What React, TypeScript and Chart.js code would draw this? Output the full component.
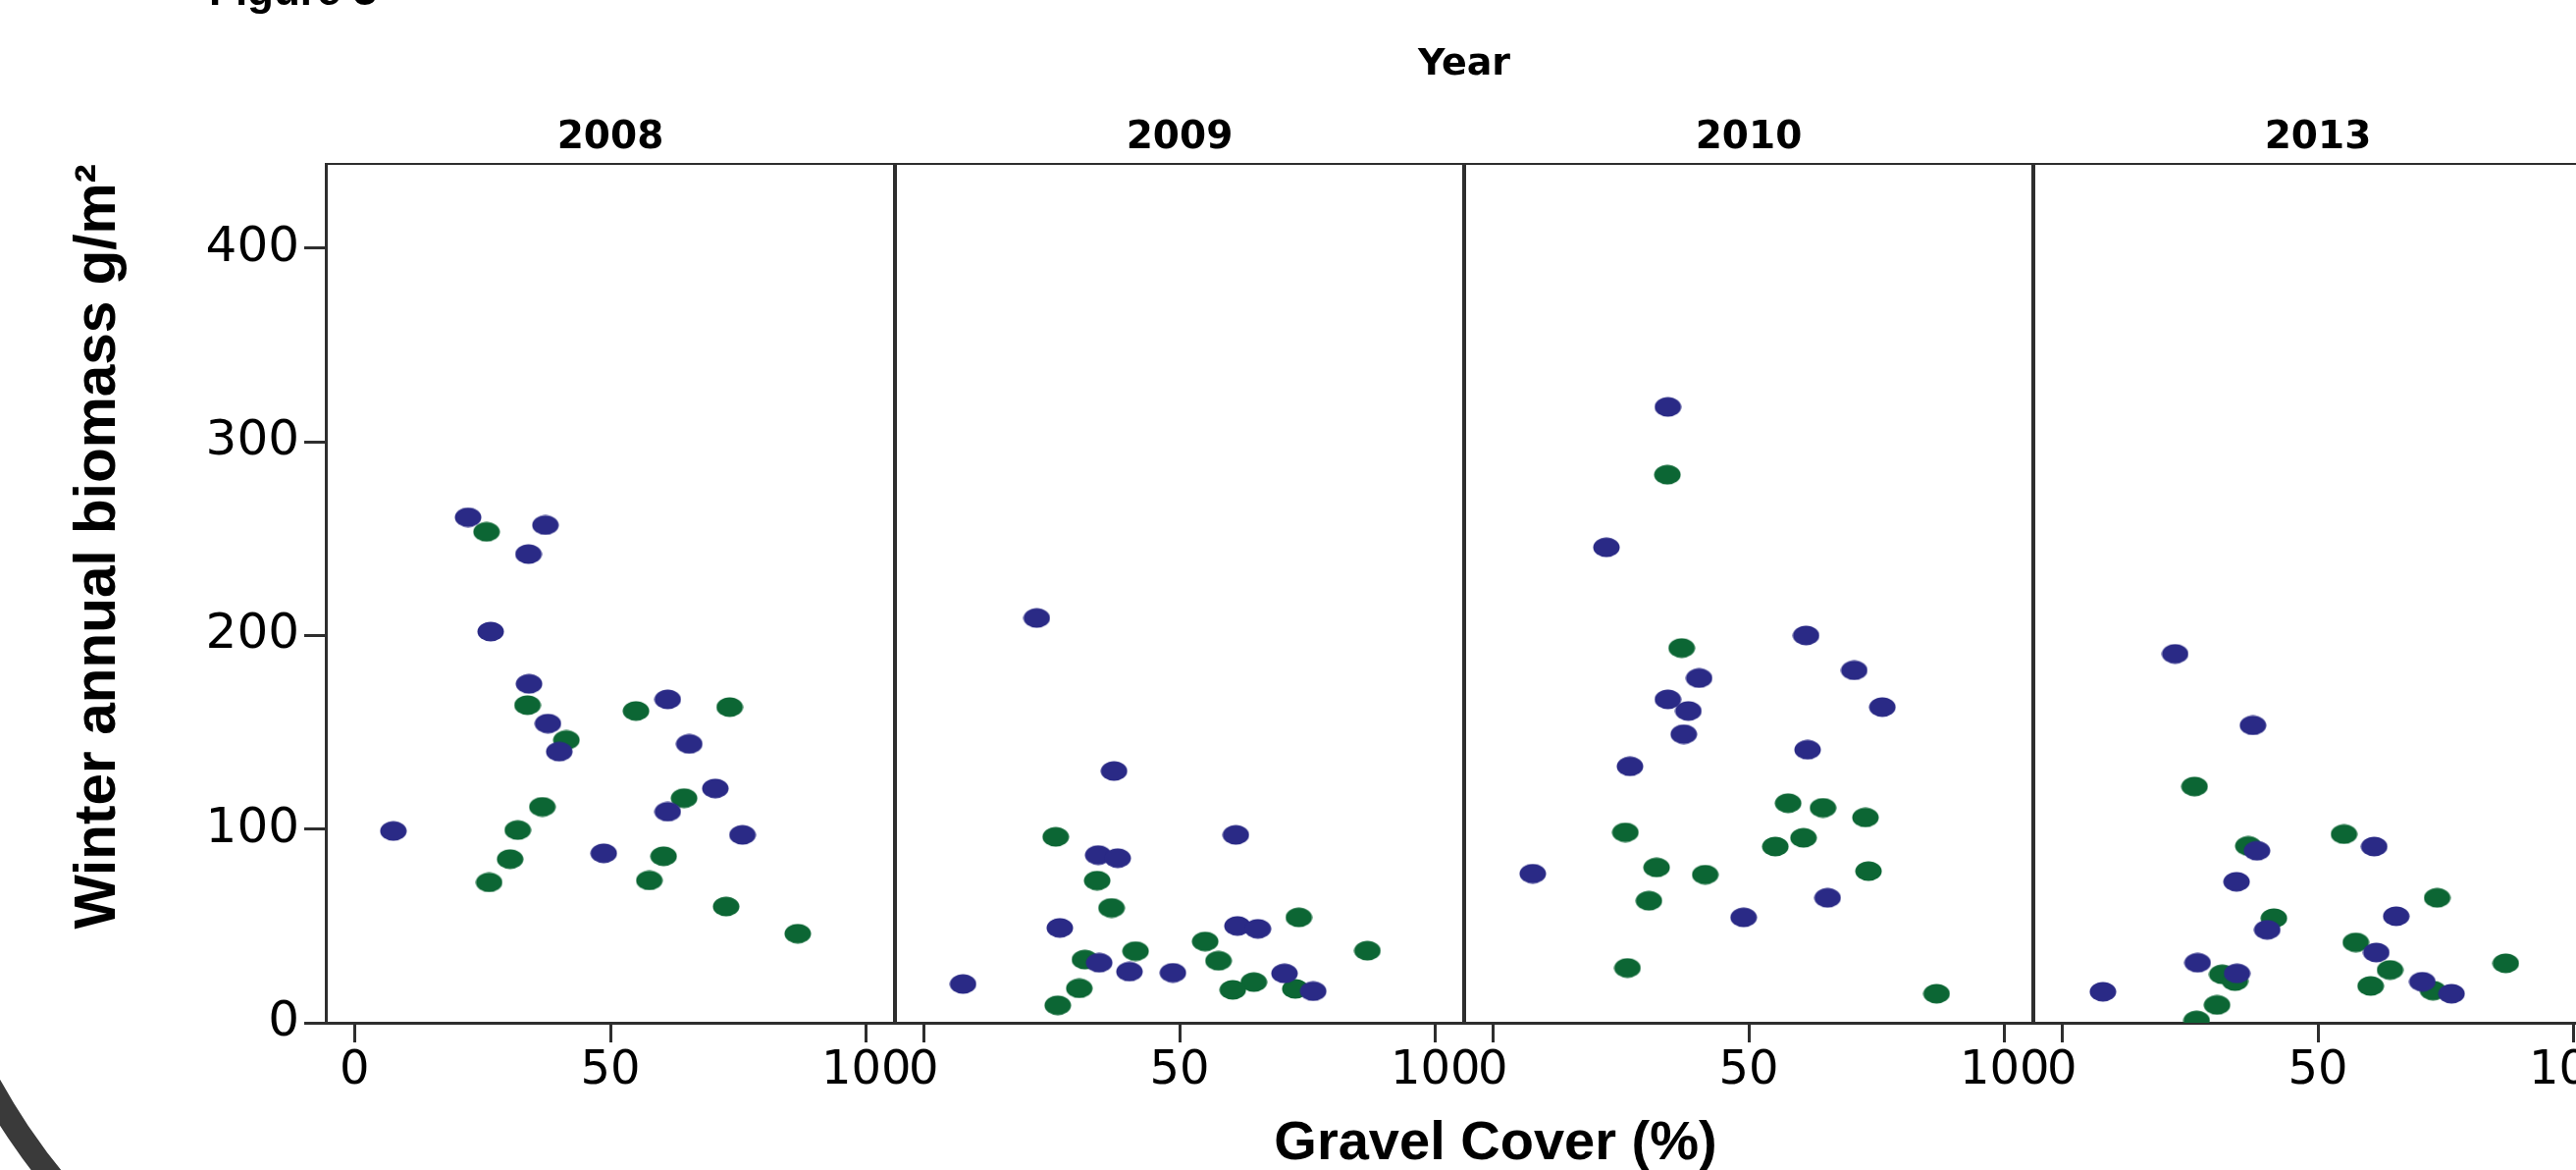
import React, { useEffect, useRef } from 'react';
import { Chart, registerables } from 'chart.js';

Chart.register(...registerables);

// ---------- data ----------
const years = ['2008', '2009', '2010', '2013'];
const xTickValues = [0, 50, 100];
const yTickValues = [0, 100, 200, 300, 400];

// blue points: gravel cover (%) and winter annual biomass (g/m2)
const blueGravel2008 = [22.2, 37.3, 34.0, 26.6, 34.1, 61.2, 37.8, 40.0, 65.4, 70.5, 61.2, 7.6, 48.7, 75.8];
const blueBiomass2008 = [261, 257, 242, 202, 175, 167, 154.5, 140, 144, 121, 109, 99, 87.5, 97];
const blueGravel2009 = [22.1, 37.2, 61.0, 34.1, 37.9, 26.6, 61.3, 65.3, 34.3, 40.2, 48.7, 70.5, 7.7, 76.1];
const blueBiomass2009 = [209, 130, 97, 86.6, 85, 49, 50, 48.5, 31, 26.4, 25.8, 25.5, 20, 16.3];
const blueGravel2010 = [34.2, 22.2, 61.2, 70.6, 40.3, 34.2, 38.2, 76.1, 37.3, 61.5, 26.8, 7.8, 65.4, 49.0];
const blueBiomass2010 = [318, 245.5, 200, 182, 178, 167, 161, 163, 149, 141, 132.4, 77, 64.5, 54.4];
const blueGravel2013 = [22.1, 37.3, 61.0, 38.1, 34.1, 65.3, 40.1, 61.4, 26.5, 34.2, 8.0, 70.4, 76.1];
const blueBiomass2013 = [190.5, 153.6, 91, 88.8, 72.8, 55, 48, 36.3, 31, 25.5, 16, 21.2, 15];

// green points
const greenGravel2008 = [25.8, 33.8, 55.0, 73.3, 41.4, 36.7, 64.4, 31.9, 30.4, 60.4, 26.3, 57.6, 72.6, 86.6];
const greenBiomass2008 = [253.5, 164, 161, 163, 146, 111.5, 116, 99.5, 84.5, 86, 72.5, 73.5, 60, 46];
const greenGravel2009 = [25.8, 33.9, 36.7, 73.3, 55.0, 41.4, 86.7, 31.5, 57.6, 64.5, 30.4, 60.4, 72.6, 26.2];
const greenBiomass2009 = [96, 73.4, 59.3, 54.4, 42, 37, 37.2, 32.6, 32, 21, 17.8, 17, 17.5, 9];
const greenGravel2010 = [34.1, 36.9, 25.9, 32.0, 41.5, 30.5, 57.7, 64.5, 72.8, 60.7, 55.2, 73.4, 26.3, 86.7];
const greenBiomass2010 = [283, 193.5, 98.3, 80.2, 76.5, 63, 113.4, 111, 106, 95.5, 91, 78.3, 28.3, 15];
const greenGravel2013 = [25.9, 55.1, 36.4, 73.3, 41.4, 57.4, 64.1, 86.7, 31.3, 33.8, 60.3, 72.5, 30.3, 26.3];
const greenBiomass2013 = [122, 97.4, 91.3, 64.5, 54, 41.5, 27.3, 30.7, 25, 21.5, 19, 16.6, 9.2, 1.2];

const blueGravel = [blueGravel2008, blueGravel2009, blueGravel2010, blueGravel2013];
const blueBiomass = [blueBiomass2008, blueBiomass2009, blueBiomass2010, blueBiomass2013];
const greenGravel = [greenGravel2008, greenGravel2009, greenGravel2010, greenGravel2013];
const greenBiomass = [greenBiomass2008, greenBiomass2009, greenBiomass2010, greenBiomass2013];

// ---------- panel axis geometry (axis range of one facet) ----------
const PANEL_LO = -5.6;
const PANEL_HI = 105.6;
const SPAN = PANEL_HI - PANEL_LO;
const Y_MAX = 443.5;

const BLUE = '#2a2a86';
const GREEN = '#0c6634';
const AXIS = '#2e2e2e';

const bottomTicks = years.flatMap((_, p) => [
  ...xTickValues.map((v) => ({ value: p * SPAN + v, label: String(v), boundary: false })),
  ...(p < years.length - 1 ? [{ value: p * SPAN + PANEL_HI, label: '', boundary: true }] : []),
]);

function toPoints(xs: number[][], ys: number[][]) {
  return years.flatMap((_, p) => xs[p].map((x, i) => ({ x: x + p * SPAN, y: ys[p][i] })));
}

function makeDot(color: string) {
  const c = document.createElement('canvas');
  c.width = 28;
  c.height = 21;
  const g = c.getContext('2d')!;
  g.fillStyle = color;
  g.beginPath();
  g.ellipse(14, 10.5, 13.5, 10, 0, 0, Math.PI * 2);
  g.fill();
  return c;
}

const decorPlugin = {
  id: 'decor',
  afterDraw(chart: any) {
    const ctx = chart.ctx as CanvasRenderingContext2D;
    ctx.save();
    ctx.font = 'bold 44px "Liberation Sans"';
    ctx.fillStyle = '#000';
    ctx.textBaseline = 'alphabetic';
    ctx.fillText('Figure 3', 213, 5);
    ctx.strokeStyle = '#3a3a3a';
    ctx.lineWidth = 24;
    ctx.beginPath();
    ctx.arc(560, 790, 652, 2.3, 2.8);
    ctx.stroke();
    ctx.restore();
  },
};

export default function App() {
  const ref = useRef<HTMLCanvasElement>(null);

  useEffect(() => {
    document.body.style.margin = '0';
    document.body.style.overflow = 'hidden';
    const canvas = ref.current!;
    const xMin = PANEL_LO;
    const xMax = PANEL_LO + SPAN * years.length;

    const chart = new Chart(canvas, {
      type: 'scatter',
      data: {
        datasets: [
          {
            label: 'Blue plots',
            data: toPoints(blueGravel, blueBiomass),
            pointStyle: makeDot(BLUE) as any,
            pointRadius: 13,
            backgroundColor: BLUE,
            borderWidth: 0,
            clip: 0,
          },
          {
            label: 'Green plots',
            data: toPoints(greenGravel, greenBiomass),
            pointStyle: makeDot(GREEN) as any,
            pointRadius: 13,
            backgroundColor: GREEN,
            borderWidth: 0,
            clip: 0,
          },
        ],
      },
      options: {
        animation: false,
        responsive: false,
        devicePixelRatio: 1,
        events: [],
        layout: { padding: { top: 38.4, left: 0, right: 0, bottom: 0 } },
        plugins: {
          legend: { display: false },
          tooltip: { enabled: false },
          title: { display: false },
          subtitle: {
            display: true,
            text: 'Gravel Cover (%)',
            position: 'bottom',
            fullSize: true,
            color: '#000',
            font: { family: 'Liberation Sans', size: 56, weight: 'bold' },
            padding: { top: 10.8, bottom: 0.4 },
          },
        },
        scales: {
          x: {
            type: 'linear',
            position: 'bottom',
            min: xMin,
            max: xMax,
            afterBuildTicks: (s: any) => {
              s.ticks = bottomTicks.map((t) => ({ value: t.value }));
            },
            afterFit: (s: any) => {
              s.height = 79.6;
            },
            ticks: {
              autoSkip: false,
              maxRotation: 0,
              minRotation: 0,
              padding: 1,
              color: '#000',
              font: { family: 'DejaVu Sans', size: 48 },
              callback: (_v: any, i: number) => bottomTicks[i]?.label ?? '',
            },
            grid: {
              drawOnChartArea: true,
              color: (c: any) => (bottomTicks[c.index]?.boundary ? AXIS : 'rgba(0,0,0,0)'),
              lineWidth: (c: any) => (bottomTicks[c.index]?.boundary ? 4 : 1),
              tickLength: 20,
              tickColor: (c: any) => (bottomTicks[c.index]?.boundary ? 'rgba(0,0,0,0)' : AXIS),
              tickWidth: 3,
            },
            border: { display: true, color: AXIS, width: 3 },
          },
          xTop: {
            type: 'linear',
            position: 'top',
            min: xMin,
            max: xMax,
            afterBuildTicks: (s: any) => {
              s.ticks = years.map((_, p) => ({ value: p * SPAN + 50 }));
            },
            afterFit: (s: any) => {
              s.height = 128.6;
            },
            ticks: {
              autoSkip: false,
              maxRotation: 0,
              minRotation: 0,
              padding: 3,
              color: '#000',
              font: { family: 'DejaVu Sans', size: 39, weight: 'bold' },
              callback: (_v: any, i: number) => years[i],
            },
            grid: { display: false, drawTicks: false },
            border: { display: true, color: AXIS, width: 2 },
            title: {
              display: true,
              text: 'Year',
              color: '#000',
              font: { family: 'DejaVu Sans', size: 38, weight: 'bold' },
              padding: { top: 4.8, bottom: 0 },
            },
          },
          y: {
            type: 'linear',
            position: 'left',
            min: 0,
            max: Y_MAX,
            afterBuildTicks: (s: any) => {
              s.ticks = yTickValues.map((v) => ({ value: v }));
            },
            afterFit: (s: any) => {
              s.width = 332;
            },
            ticks: {
              padding: 5,
              color: '#000',
              font: { family: 'DejaVu Sans', size: 50 },
            },
            grid: {
              drawOnChartArea: false,
              drawTicks: true,
              tickLength: 22,
              tickColor: AXIS,
              tickWidth: 3,
            },
            border: { display: true, color: AXIS, width: 3 },
            title: {
              display: true,
              text: 'Winter annual biomass g/m²',
              align: 'end',
              color: '#000',
              font: { family: 'Liberation Sans', size: 58.5, weight: 'bold' },
              padding: { top: 66, bottom: 0 },
            },
          },
          rightSpace: {
            type: 'linear',
            position: 'right',
            display: true,
            afterFit: (s: any) => {
              s.width = 396;
            },
            ticks: { display: false },
            grid: { display: false, drawTicks: false },
            border: { display: false },
          },
        },
      } as any,
      plugins: [decorPlugin],
    });

    return () => chart.destroy();
  }, []);

  return (
    <canvas
      ref={ref}
      width={3048}
      height={1200}
      style={{ display: 'block', width: '3048px', height: '1200px' }}
    />
  );
}
